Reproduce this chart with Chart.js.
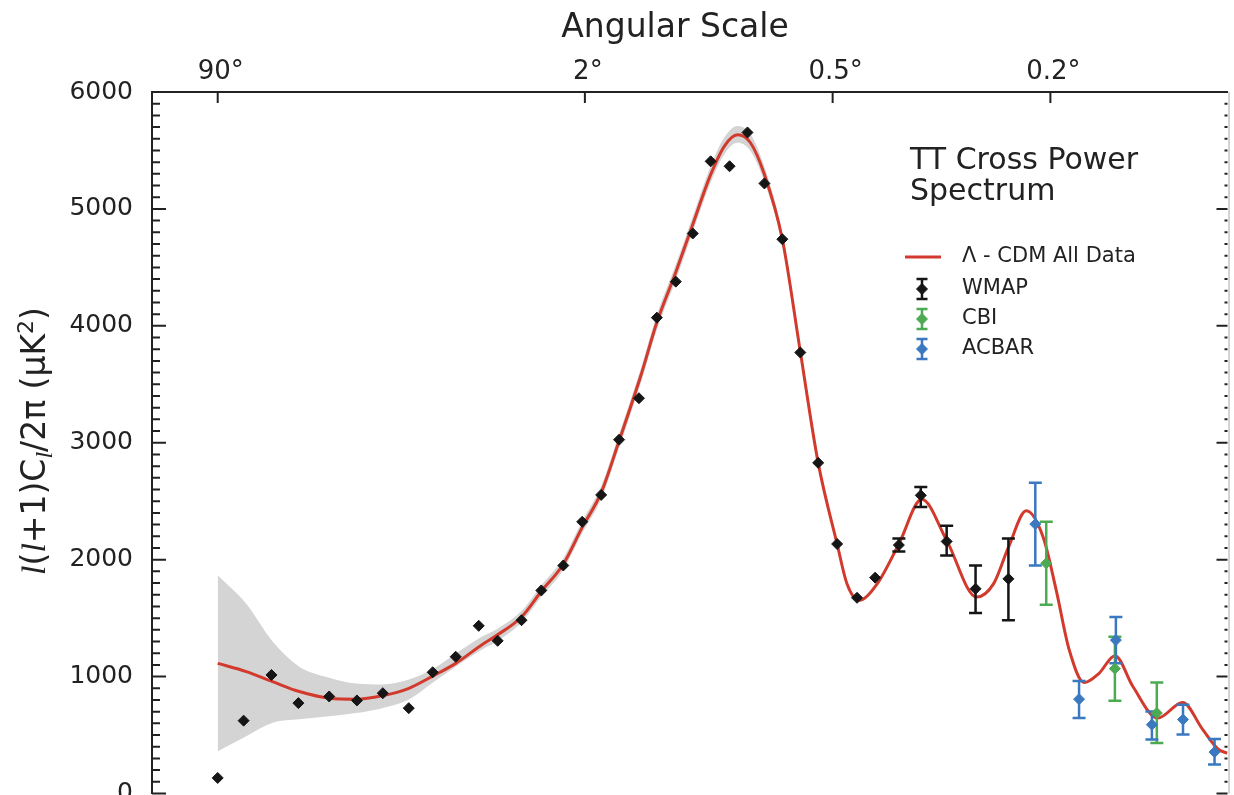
<!DOCTYPE html>
<html>
<head>
<meta charset="utf-8">
<script src="https://cdn.jsdelivr.net/npm/chart.js@4.4.1/dist/chart.umd.min.js"></script>
<style>
  html, body { margin: 0; padding: 0; background: #fff; overflow: hidden; }
  #wrap { width: 1234px; height: 800px; }
</style>
</head>
<body>
<div id="wrap"><canvas id="ttChart"></canvas></div>
<script>
// multipole l and band power l(l+1)Cl/2pi in uK^2
const wmapL = [2, 3.06, 4.62, 6.63, 9.67, 13.2, 17.3, 22.3, 27.8, 34.0, 41.2, 47.9, 57.5, 66.5, 77.7, 88.4,
  100.2, 112.4, 127.2, 141.8, 158.5, 174.7, 193.1, 214.1, 235.5, 257.2, 281.7, 308.0, 336.0, 367.7, 403.4,
  438.0, 486.7, 535.2, 597.0, 672.2, 766.1];
const wmapV = [133, 623, 1014, 773, 830, 796, 858, 730, 1037, 1170, 1434, 1306, 1482, 1737, 1950, 2324,
  2554, 3026, 3381, 4070, 4378, 4790, 5407, 5365, 5654, 5218, 4741, 3772, 2828, 2134, 1674,
  1846, 2125, 2550, 2156, 1751, 1836];
const wmapLo = [null, null, null, null, null, null, null, null, null, null, null, null, null, null, null, null,
  null, null, null, null, null, null, null, null, null, null, null, null, null, null, null,
  null, 2069, 2451, 2035, 1544, 1482];
const wmapHi = [null, null, null, null, null, null, null, null, null, null, null, null, null, null, null, null,
  null, null, null, null, null, null, null, null, null, null, null, null, null, null, null,
  null, 2182, 2622, 2290, 1950, 2182];

const cbiL = [886, 1139, 1318];
const cbiV = [1969, 1068, 688];
const cbiLo = [1615, 793, 433];
const cbiHi = [2324, 1340, 949];

const acbarL = [850, 1001, 1143, 1296, 1440, 1598];
const acbarV = [2304, 807, 1312, 589, 632, 354];
const acbarLo = [1950, 645, 1113, 462, 504, 249];
const acbarHi = [2658, 963, 1510, 702, 759, 467];

// best-fit Lambda-CDM curve
const modelL = [2, 3.19, 4.69, 6.71, 9.67, 13.09, 17.16, 22.33, 27.59, 34.0, 42.16, 47.86, 57.47, 66.52, 77.67,
  88.38, 100.2, 112.4, 128.8, 141.8, 158.5, 174.7, 193.1, 208.4, 223.4, 239.2, 257.2, 281.7, 308.0, 336.0,
  367.7, 385.2, 407.1, 441.6, 486.7, 537.4, 597, 674.9, 722.3, 766.1, 821.3, 876.1, 919.8, 965.2, 1019.6,
  1076.2, 1139.3, 1213.4, 1322.3, 1438.4, 1536.7, 1618.8, 1666];
const modelV = [1113, 1043, 957, 872, 815, 807, 836, 900, 1000, 1113, 1270, 1357, 1510, 1730, 1961,
  2276, 2573, 3015, 3577, 4030, 4459, 4867, 5293, 5540, 5634, 5566, 5294, 4741, 3780, 2828,
  2134, 1791, 1652, 1791, 2134, 2516, 2165, 1680, 1793, 2105, 2418, 2190, 1740, 1230, 949,
  1028, 1179, 915, 645, 779, 549, 377, 345];

// grey cosmic variance band
const bandL = [2, 3.19, 4.69, 6.71, 9.67, 13.09, 17.16, 22.33, 27.59, 34.0, 42.16, 47.86, 57.47, 66.52, 77.67,
  88.38, 100.2, 112.4, 128.8, 141.8, 158.5, 174.7, 193.1, 208.4, 223.4, 239.2, 257.2, 281.7, 308.0, 336.0];
const bandHi = [1867, 1623, 1300, 1085, 991, 940, 932, 974, 1060, 1196, 1340, 1410, 1560, 1780, 2012,
  2330, 2630, 3075, 3640, 4095, 4525, 4935, 5365, 5615, 5710, 5640, 5360, 4790, 3815, 2828];
const bandLo = [362, 490, 605, 634, 660, 688, 730, 804, 943, 1085, 1230, 1305, 1462, 1682, 1912,
  2225, 2518, 2958, 3515, 3965, 4390, 4800, 5225, 5470, 5565, 5495, 5230, 4695, 3748, 2828];

const angleTicks = [90, 2, 0.5, 0.2];            // degrees, top axis
const tickL = angleTicks.map(a => 180 / a);     // theta ~ 180/l
const L_MIN = 0.524, L_MAX = 1666.5;

const RED = '#d13a2c', BLACK = '#151515', GREEN = '#4caa52', BLUE = '#3a78c0', GREY = '#d4d4d4';
const INK = '#222';

// the axis is close to linear in l^(1/4)
const q = l => Math.pow(l, 0.25);
const pts = (ls, vs) => ls.map((l, i) => ({ x: q(l), y: vs[i] }));

Chart.defaults.font.family = "'DejaVu Sans', sans-serif";

function errorBars(ctx, xs, ys, ls, lo, hi, color) {
  ctx.save();
  ctx.strokeStyle = color;
  ctx.lineWidth = 2.5;
  ls.forEach((l, i) => {
    if (lo[i] == null) return;
    const x = xs.getPixelForValue(q(l));
    const y1 = ys.getPixelForValue(lo[i]);
    const y2 = ys.getPixelForValue(hi[i]);
    ctx.beginPath();
    ctx.moveTo(x, y1); ctx.lineTo(x, y2);
    ctx.moveTo(x - 6.5, y1); ctx.lineTo(x + 6.5, y1);
    ctx.moveTo(x - 6.5, y2); ctx.lineTo(x + 6.5, y2);
    ctx.stroke();
  });
  ctx.restore();
}

function legendMarker(ctx, x, y, color) {
  ctx.save();
  ctx.strokeStyle = color;
  ctx.fillStyle = color;
  ctx.lineWidth = 2.5;
  ctx.beginPath();
  ctx.moveTo(x, y - 10); ctx.lineTo(x, y + 10);
  ctx.moveTo(x - 5.5, y - 10); ctx.lineTo(x + 5.5, y - 10);
  ctx.moveTo(x - 5.5, y + 10); ctx.lineTo(x + 5.5, y + 10);
  ctx.stroke();
  ctx.lineWidth = 1;
  Chart.helpers.drawPoint(ctx, { pointStyle: 'rectRot', radius: 5.5, borderWidth: 1 }, x, y);
  ctx.restore();
}

function yTitle(ctx) {
  const parts = [
    ['l', "italic 34px 'Liberation Serif'", 0],
    ['(', "33px 'DejaVu Sans'", 0],
    ['l', "italic 34px 'Liberation Serif'", 0],
    ['+1)C', "33px 'DejaVu Sans'", 0],
    ['l', "italic 24px 'Liberation Serif'", 7],
    ['/2\u03C0 (\u03BCK', "33px 'DejaVu Sans'", 0],
    ['2', "22px 'DejaVu Sans'", -12],
    [')', "33px 'DejaVu Sans'", 0]
  ];
  ctx.save();
  ctx.fillStyle = INK;
  ctx.textBaseline = 'alphabetic';
  let total = 0;
  parts.forEach(p => { ctx.font = p[1]; total += ctx.measureText(p[0]).width; });
  ctx.translate(45, 441);
  ctx.rotate(-Math.PI / 2);
  let x = -total / 2;
  parts.forEach(p => {
    ctx.font = p[1];
    ctx.fillText(p[0], x, p[2]);
    x += ctx.measureText(p[0]).width;
  });
  ctx.restore();
}

const decor = {
  id: 'decor',
  afterDatasetDraw(chart, args) {
    if (args.index !== 3) return;   // after the model line, under the markers
    const { ctx } = chart;
    const xs = chart.scales.x, ys = chart.scales.y;
    errorBars(ctx, xs, ys, wmapL, wmapLo, wmapHi, BLACK);
    errorBars(ctx, xs, ys, cbiL, cbiLo, cbiHi, GREEN);
    errorBars(ctx, xs, ys, acbarL, acbarLo, acbarHi, BLUE);
  },
  afterDraw(chart) {
    const { ctx, chartArea } = chart;
    const { left, right, top, bottom } = chartArea;
    const xs = chart.scales.x, ys = chart.scales.y;

    // inward tick marks
    ctx.save();
    ctx.strokeStyle = INK;
    ctx.lineWidth = 2;
    ctx.beginPath();
    for (let v = 0; v <= 6000; v += 100) {
      const y = ys.getPixelForValue(v);
      const major = v % 1000 === 0;
      ctx.moveTo(left, y); ctx.lineTo(left + (major ? 14 : 8), y);
      ctx.moveTo(right, y); ctx.lineTo(right - (major ? 11 : 3), y);
    }
    xs.ticks.forEach(t => {
      const x = xs.getPixelForValue(t.value);
      ctx.moveTo(x, top); ctx.lineTo(x, top + 11);
    });
    ctx.stroke();
    ctx.strokeStyle = '#aaa';
    ctx.lineWidth = 1;
    ctx.beginPath();
    ctx.moveTo(right + 1.5, top); ctx.lineTo(right + 1.5, bottom);
    ctx.stroke();
    ctx.restore();

    // titles
    ctx.save();
    ctx.fillStyle = INK;
    ctx.textBaseline = 'middle';
    ctx.textAlign = 'center';
    ctx.font = "33px 'DejaVu Sans'";
    ctx.fillText('Angular Scale', 675, 28);
    ctx.restore();
    yTitle(ctx);

    // legend
    ctx.save();
    ctx.fillStyle = INK;
    ctx.textBaseline = 'middle';
    ctx.textAlign = 'left';
    ctx.font = "30px 'DejaVu Sans'";
    ctx.fillText('TT Cross Power', 910, 161);
    ctx.fillText('Spectrum', 910, 192);
    ctx.strokeStyle = RED;
    ctx.lineWidth = 3;
    ctx.beginPath();
    ctx.moveTo(905, 257); ctx.lineTo(941, 257);
    ctx.stroke();
    ctx.font = "21px 'DejaVu Sans'";
    ctx.fillText('\u039B - CDM All Data', 962, 257);
    const items = [['WMAP', BLACK, 289], ['CBI', GREEN, 319], ['ACBAR', BLUE, 349]];
    items.forEach(([name, color, y]) => {
      legendMarker(ctx, 922, y, color);
      ctx.fillStyle = INK;
      ctx.fillText(name, 962, y);
    });
    ctx.restore();
  }
};

const markers = (label, ls, vs, color) => ({
  label,
  data: pts(ls, vs),
  showLine: false,
  pointStyle: 'rectRot',
  pointRadius: 5.5,
  pointBorderWidth: 1,
  pointBackgroundColor: color,
  pointBorderColor: color,
  order: 0
});

new Chart(document.getElementById('ttChart'), {
  type: 'line',
  data: {
    datasets: [
      markers('WMAP', wmapL, wmapV, BLACK),
      markers('CBI', cbiL, cbiV, GREEN),
      markers('ACBAR', acbarL, acbarV, BLUE),
      {
        label: '\u039B - CDM All Data',
        data: pts(modelL, modelV),
        borderColor: RED,
        borderWidth: 3,
        pointRadius: 0,
        cubicInterpolationMode: 'monotone',
        fill: false,
        order: 1
      },
      {
        label: 'band low',
        data: pts(bandL, bandLo),
        borderWidth: 0,
        borderColor: GREY,
        pointRadius: 0,
        cubicInterpolationMode: 'monotone',
        fill: false,
        order: 2
      },
      {
        label: 'band high',
        data: pts(bandL, bandHi),
        borderWidth: 0,
        borderColor: GREY,
        backgroundColor: GREY,
        pointRadius: 0,
        cubicInterpolationMode: 'monotone',
        fill: '-1',
        order: 2
      }
    ]
  },
  options: {
    responsive: true,
    maintainAspectRatio: false,
    animation: false,
    layout: { padding: { left: 0, right: 2, top: 0, bottom: 2 } },
    plugins: {
      legend: { display: false },
      tooltip: { enabled: false }
    },
    scales: {
      x: {
        type: 'linear',
        position: 'top',
        min: q(L_MIN),
        max: q(L_MAX),
        grid: { display: false, drawTicks: false },
        border: { display: true, color: INK, width: 2 },
        afterBuildTicks: axis => { axis.ticks = tickL.map(l => ({ value: q(l) })); },
        afterFit: axis => { axis.height = 92; axis.paddingLeft = 0; axis.paddingRight = 0; },
        ticks: {
          autoSkip: false,
          maxRotation: 0,
          padding: 4,
          labelOffset: 3,
          color: INK,
          font: { size: 26 },
          callback: (v, i) => angleTicks[i] + '\u00B0'
        }
      },
      y: {
        min: 0,
        max: 6000,
        grid: { display: false, drawTicks: false },
        border: { display: true, color: INK, width: 2 },
        afterFit: axis => { axis.width = 152; axis.paddingTop = 0; axis.paddingBottom = 0; },
        ticks: {
          stepSize: 1000,
          padding: 19,
          color: INK,
          font: { size: 25 },
          callback: v => String(v)
        }
      }
    }
  },
  plugins: [decor]
});
</script>
</body>
</html>
